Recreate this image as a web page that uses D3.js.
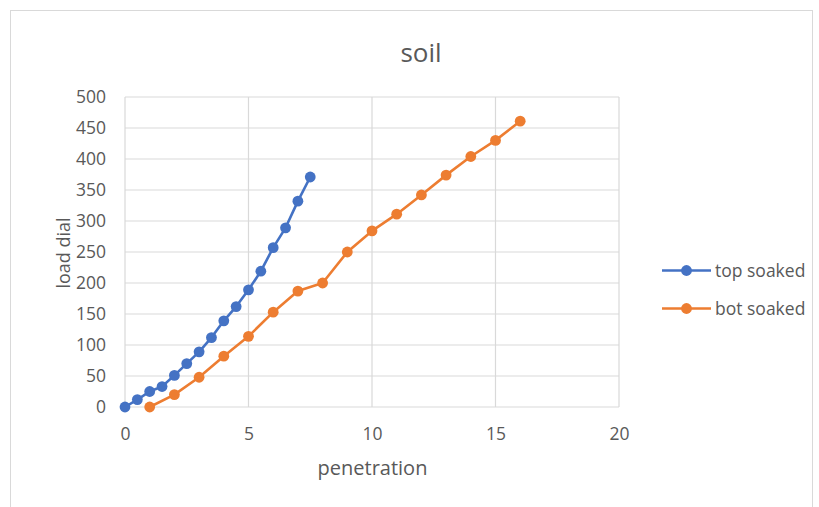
<!DOCTYPE html>
<html><head><meta charset="utf-8">
<script src="https://cdn.jsdelivr.net/npm/d3@7"></script>
<style>body{margin:0;background:#fff;} text{font-family:"Open Sans","Noto Sans",sans-serif;}</style>
</head><body>
<svg id="c" width="819" height="507"></svg>
<script>
const topX = [0,0.5,1,1.5,2,2.5,3,3.5,4,4.5,5,5.5,6,6.5,7,7.5];
const topY = [0,12,25,33,51,70,89,112,139,162,189,219,257,289,332,371];
const botX = [1,2,3,4,5,6,7,8,9,10,11,12,13,14,15,16];
const botY = [0,20,48,82,114,153,187,200,250,284,311,342,374,404,430,461];
const xTicks = [0,5,10,15,20];
const yTicks = [0,50,100,150,200,250,300,350,400,450,500];
const seriesNames = ["top soaked","bot soaked"];
const colors = ["#4472C4","#ED7D31"];

const svg = d3.select("#c");
svg.append("rect").attr("x",10.5).attr("y",10.5).attr("width",802).attr("height",500)
  .attr("fill","#fff").attr("stroke","#d9d9d9");

const x = d3.scaleLinear().domain([0,20]).range([125,619]);
const y = d3.scaleLinear().domain([0,500]).range([407,97]);

// gridlines
svg.append("g").selectAll("line").data(yTicks).join("line")
  .attr("x1",x(0)).attr("x2",x(20)).attr("y1",d=>y(d)).attr("y2",d=>y(d))
  .attr("stroke","#d9d9d9").attr("stroke-width",1.2);
svg.append("g").selectAll("line").data(xTicks).join("line")
  .attr("y1",y(0)).attr("y2",y(500)).attr("x1",d=>x(d)).attr("x2",d=>x(d))
  .attr("stroke","#d9d9d9").attr("stroke-width",1.2);

const fam = "Open Sans, Noto Sans, sans-serif";
const xa = svg.append("g").attr("transform",`translate(0,${y(0)})`)
  .call(d3.axisBottom(x).tickValues(xTicks).tickSize(0).tickPadding(21));
xa.select(".domain").remove();
xa.selectAll("text").attr("font-size",17.5).attr("fill","#595959").style("font-family",fam);
const ya = svg.append("g").attr("transform",`translate(${x(0)},0)`)
  .call(d3.axisLeft(y).tickValues(yTicks).tickSize(0).tickPadding(19));
ya.select(".domain").remove();
ya.selectAll("text").attr("font-size",17.5).attr("fill","#595959").style("font-family",fam);

svg.append("text").attr("x",421).attr("y",62).attr("text-anchor","middle")
  .attr("font-size",26).attr("fill","#595959").text("soil");
svg.append("text").attr("x",372.5).attr("y",475).attr("text-anchor","middle")
  .attr("font-size",20).attr("fill","#595959").text("penetration");
svg.append("text").attr("transform","translate(70,253) rotate(-90)").attr("text-anchor","middle")
  .attr("font-size",18).attr("fill","#595959").text("load dial");

const series = [topX.map((v,i)=>[v,topY[i]]), botX.map((v,i)=>[v,botY[i]])];
const line = d3.line().x(d=>x(d[0])).y(d=>y(d[1]));
series.forEach((s,i)=>{
  svg.append("path").datum(s).attr("d",line).attr("fill","none")
    .attr("stroke",colors[i]).attr("stroke-width",2.6).attr("stroke-linejoin","round");
  svg.append("g").selectAll("circle").data(s).join("circle")
    .attr("cx",d=>x(d[0])).attr("cy",d=>y(d[1])).attr("r",5.4).attr("fill",colors[i]);
});

// legend
seriesNames.forEach((n,i)=>{
  const ly = 270.5 + i*38;
  svg.append("line").attr("x1",662).attr("x2",711).attr("y1",ly).attr("y2",ly)
    .attr("stroke",colors[i]).attr("stroke-width",2.6);
  svg.append("circle").attr("cx",686.5).attr("cy",ly).attr("r",5.4).attr("fill",colors[i]);
  svg.append("text").attr("x",715).attr("y",ly+6).attr("font-size",17.5).attr("fill","#595959").text(n);
});
</script>
</body></html>
